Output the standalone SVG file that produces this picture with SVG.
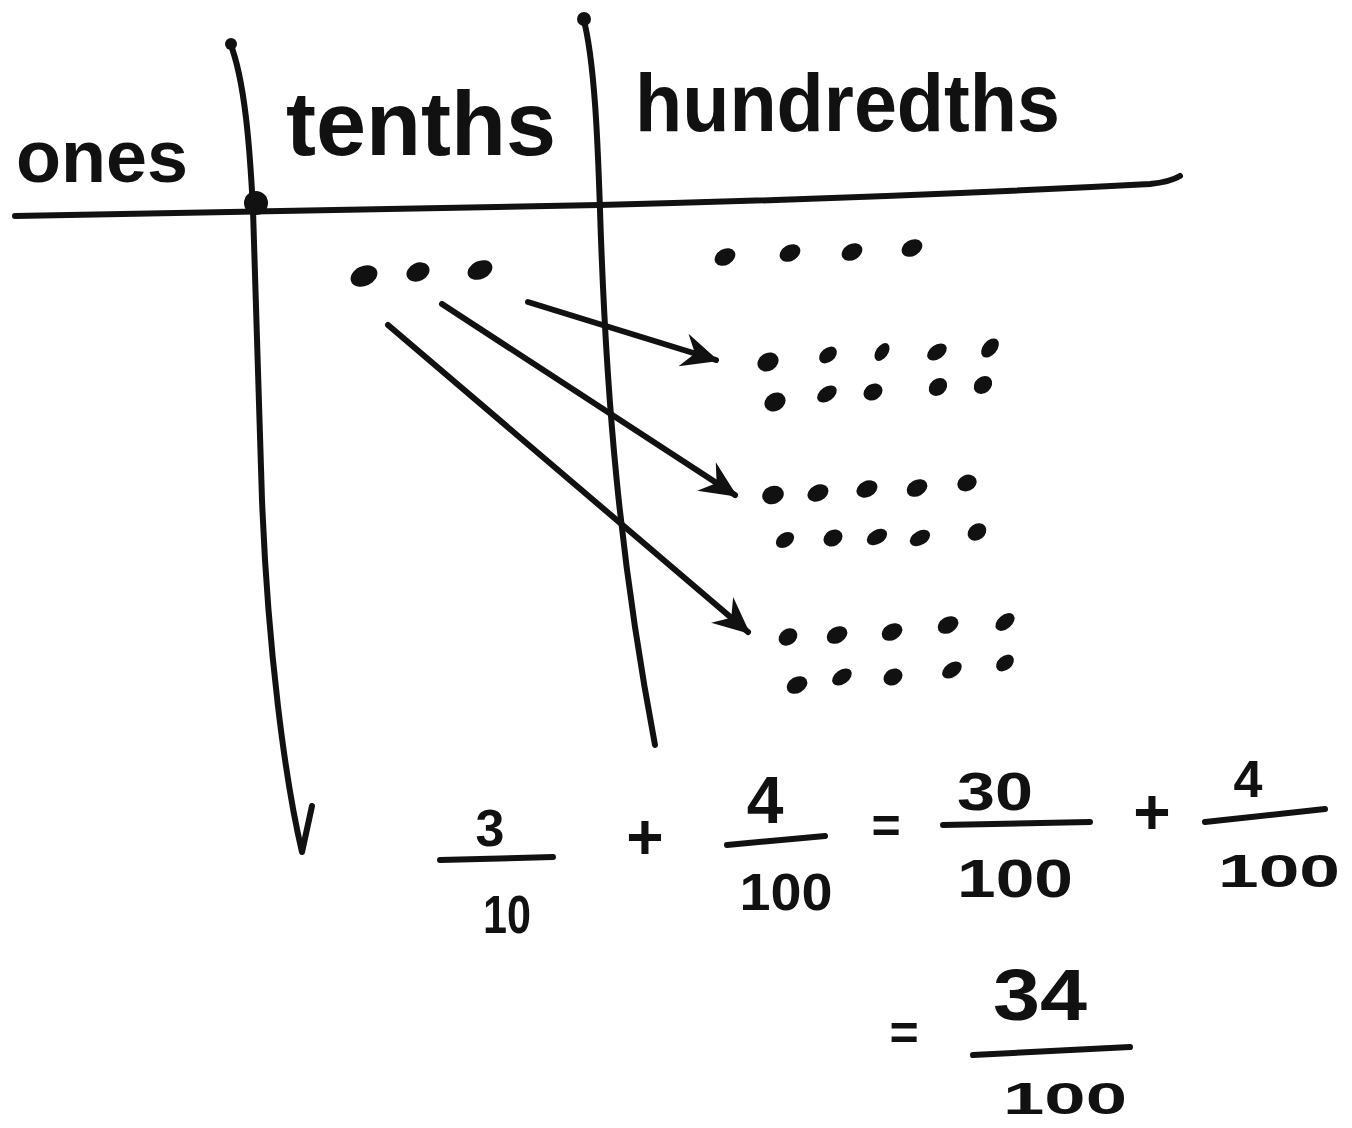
<svg xmlns="http://www.w3.org/2000/svg" width="1352" height="1128" viewBox="0 0 1352 1128">
<defs>
<style>
.ln{fill:none;stroke:#111;stroke-width:6;stroke-linecap:round;stroke-linejoin:round}
.ar{fill:none;stroke:#111;stroke-width:6;stroke-linecap:round}
.bar{fill:none;stroke:#111;stroke-width:6;stroke-linecap:round}
.lbl{font-family:"Liberation Sans",Arial,sans-serif;font-weight:bold;fill:#111}
.num{font-family:"Liberation Sans",Arial,sans-serif;font-weight:bold;fill:#111;text-anchor:middle}
.dots ellipse{fill:#111}
</style>
<marker id="ah" viewBox="-40 -20 46 40" markerWidth="46" markerHeight="40" refX="0" refY="0" orient="auto" markerUnits="userSpaceOnUse">
<path d="M3,0 L-34,-17 L-22,0 L-34,17 Z" fill="#111"/>
</marker>
</defs>
<rect width="1352" height="1128" fill="#fff"/>

<g id="grid">
<path class="ln" d="M15,216 C200,212 400,208 600,205 C800,200 1000,192 1150,184 Q1170,182 1180,176"/>
<path class="ln" d="M230,43 C245,80 250,150 253,210 L262,500 C268,650 285,780 302,852 L312,806"/>
<path class="ln" d="M583,17 C595,60 598,150 600,210 C606,400 620,560 655,745"/>
<circle cx="256" cy="203" r="12" fill="#111"/>
<circle cx="231" cy="44" r="6" fill="#111"/>
<circle cx="584" cy="19" r="7" fill="#111"/>
</g>

<g id="headers">
<text id="ones" class="lbl" x="16" y="182" font-size="74" textLength="172" lengthAdjust="spacingAndGlyphs">ones</text>
<text id="tenths" class="lbl" x="286" y="155" font-size="90" textLength="270" lengthAdjust="spacingAndGlyphs">tenths</text>
<text id="hundredths" class="lbl" x="635" y="131" font-size="82" textLength="425" lengthAdjust="spacingAndGlyphs">hundredths</text>
</g>

<g id="tenths-dots" class="dots">
<ellipse cx="364" cy="276" rx="14" ry="10" transform="rotate(-25 364 276)"/>
<ellipse cx="418" cy="272" rx="12" ry="9" transform="rotate(-25 418 272)"/>
<ellipse cx="480" cy="270" rx="13" ry="9" transform="rotate(-25 480 270)"/>
</g>

<g id="hundredths-row" class="dots">
<ellipse cx="725" cy="257" rx="11" ry="8" transform="rotate(-30 725 257)"/>
<ellipse cx="790" cy="253" rx="11" ry="8" transform="rotate(-30 790 253)"/>
<ellipse cx="852" cy="252" rx="11" ry="8" transform="rotate(-30 852 252)"/>
<ellipse cx="912" cy="248" rx="11" ry="8" transform="rotate(-30 912 248)"/>
</g>

<g id="group1" class="dots">
<ellipse cx="768" cy="362" rx="11" ry="9" transform="rotate(-30 768 362)"/>
<ellipse cx="828" cy="355" rx="10" ry="7" transform="rotate(-40 828 355)"/>
<ellipse cx="882" cy="352" rx="10" ry="6" transform="rotate(-55 882 352)"/>
<ellipse cx="937" cy="352" rx="11" ry="7" transform="rotate(-35 937 352)"/>
<ellipse cx="990" cy="348" rx="11" ry="7" transform="rotate(-50 990 348)"/>
<ellipse cx="775" cy="402" rx="11" ry="9" transform="rotate(-30 775 402)"/>
<ellipse cx="827" cy="394" rx="11" ry="7" transform="rotate(-35 827 394)"/>
<ellipse cx="873" cy="392" rx="10" ry="8" transform="rotate(-30 873 392)"/>
<ellipse cx="938" cy="387" rx="10" ry="8" transform="rotate(-40 938 387)"/>
<ellipse cx="983" cy="385" rx="10" ry="8" transform="rotate(-40 983 385)"/>
</g>

<g id="group2" class="dots">
<ellipse cx="773" cy="495" rx="11" ry="9" transform="rotate(-20 773 495)"/>
<ellipse cx="818" cy="493" rx="11" ry="8" transform="rotate(-25 818 493)"/>
<ellipse cx="867" cy="489" rx="11" ry="8" transform="rotate(-25 867 489)"/>
<ellipse cx="917" cy="488" rx="11" ry="8" transform="rotate(-30 917 488)"/>
<ellipse cx="967" cy="483" rx="10" ry="8" transform="rotate(-25 967 483)"/>
<ellipse cx="785" cy="540" rx="10" ry="7" transform="rotate(-35 785 540)"/>
<ellipse cx="833" cy="538" rx="10" ry="8" transform="rotate(-30 833 538)"/>
<ellipse cx="877" cy="537" rx="11" ry="7" transform="rotate(-30 877 537)"/>
<ellipse cx="920" cy="538" rx="11" ry="7" transform="rotate(-30 920 538)"/>
<ellipse cx="977" cy="532" rx="10" ry="8" transform="rotate(-35 977 532)"/>
</g>

<g id="group3" class="dots">
<ellipse cx="788" cy="637" rx="10" ry="8" transform="rotate(-35 788 637)"/>
<ellipse cx="837" cy="635" rx="11" ry="8" transform="rotate(-30 837 635)"/>
<ellipse cx="892" cy="632" rx="11" ry="8" transform="rotate(-30 892 632)"/>
<ellipse cx="948" cy="625" rx="11" ry="8" transform="rotate(-30 948 625)"/>
<ellipse cx="1005" cy="622" rx="11" ry="7" transform="rotate(-40 1005 622)"/>
<ellipse cx="797" cy="685" rx="11" ry="8" transform="rotate(-30 797 685)"/>
<ellipse cx="842" cy="677" rx="11" ry="7" transform="rotate(-35 842 677)"/>
<ellipse cx="893" cy="677" rx="10" ry="8" transform="rotate(-30 893 677)"/>
<ellipse cx="952" cy="670" rx="11" ry="7" transform="rotate(-35 952 670)"/>
<ellipse cx="1005" cy="663" rx="10" ry="7" transform="rotate(-40 1005 663)"/>
</g>

<g id="connectors">
<path class="ar" d="M528,302 L716,360" marker-end="url(#ah)"/>
<path class="ar" d="M442,304 L735,495" marker-end="url(#ah)"/>
<path class="ar" d="M388,325 L748,632" marker-end="url(#ah)"/>
</g>

<g id="equation">
<text class="num" x="490" y="846" font-size="52">3</text>
<path class="bar" d="M440,860 L553,857"/>
<text class="num" x="507" y="933" font-size="54" textLength="48" lengthAdjust="spacingAndGlyphs">10</text>
<text class="num" x="645" y="859" font-size="64">+</text>
<text class="num" x="765" y="823" font-size="66">4</text>
<path class="bar" d="M727,845 L825,836"/>
<text class="num" x="786" y="910" font-size="52" textLength="93" lengthAdjust="spacingAndGlyphs">100</text>
<text class="num" x="886" y="843" font-size="50">=</text>
<text class="num" x="995" y="810" font-size="54" textLength="76" lengthAdjust="spacingAndGlyphs">30</text>
<path class="bar" d="M943,825 L1090,822"/>
<text class="num" x="1015" y="897" font-size="54" textLength="116" lengthAdjust="spacingAndGlyphs">100</text>
<text class="num" x="1152" y="834" font-size="64">+</text>
<text class="num" x="1248" y="797" font-size="52">4</text>
<path class="bar" d="M1205,822 L1325,809"/>
<text class="num" x="1279" y="887" font-size="46" textLength="122" lengthAdjust="spacingAndGlyphs">100</text>
<text class="num" x="904" y="1050" font-size="50">=</text>
<text class="num" x="1040" y="1020" font-size="72" textLength="94" lengthAdjust="spacingAndGlyphs">34</text>
<path class="bar" d="M973,1055 L1130,1047"/>
<text class="num" x="1065" y="1114" font-size="44" textLength="124" lengthAdjust="spacingAndGlyphs">100</text>
</g>
</svg>
